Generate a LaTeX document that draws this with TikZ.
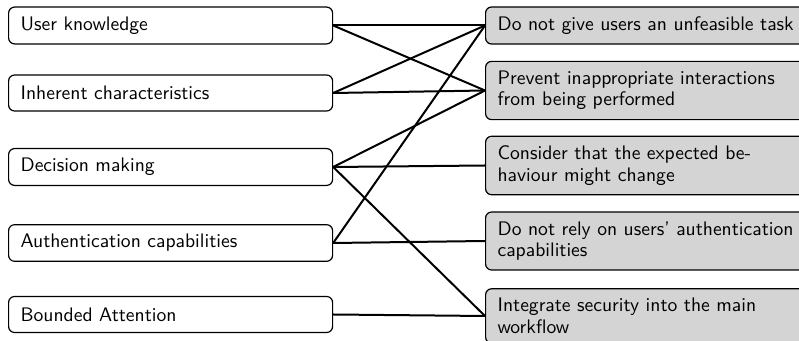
\documentclass[tikz,border=0pt]{standalone}
\begin{document}
\begin{tikzpicture}[x=0.5pt,y=-0.5pt,
  leftbox/.style={draw=black,line width=0.6pt,rounded corners=3pt,anchor=west,
    text width=150pt,align=left,inner xsep=6pt,inner ysep=4.8pt,minimum height=18pt,
    font=\fontsize{9.8}{10.7}\selectfont\sffamily},
  rightbox/.style={leftbox,fill=black!17},
  conn/.style={line width=1pt}]
\useasboundingbox (0,0) rectangle (799,341);
\begin{scope}
\clip (0,0) rectangle (799,341);
\node[leftbox] (uk) at (8,25.5) {User knowledge};
\node[leftbox] (ic) at (8,93) {Inherent characteristics};
\node[leftbox] (dm) at (8,167) {Decision making};
\node[leftbox] (ac) at (8,243) {Authentication capabilities};
\node[leftbox] (ba) at (8,314.5) {Bounded Attention};
\node[rightbox] (d1) at (485,25.5) {Do not give users an unfeasible task};
\node[rightbox] (p2) at (485,90.5) {Prevent inappropriate interactions from being performed};
\node[rightbox] (c3) at (485,165.5) {Consider that the expected behaviour might change};
\node[rightbox] (r4) at (485,241) {Do not rely on users' authentication capabilities};
\node[rightbox] (i5) at (485,316) {Integrate security into the main workflow};
\draw[conn] (uk.east) -- (d1.west);
\draw[conn] (uk.east) -- (p2.west);
\draw[conn] (ic.east) -- (d1.west);
\draw[conn] (ic.east) -- (p2.west);
\draw[conn] (dm.east) -- (p2.west);
\draw[conn] (dm.east) -- (c3.west);
\draw[conn] (dm.east) -- (i5.west);
\draw[conn] (ac.east) -- (d1.west);
\draw[conn] (ac.east) -- (r4.west);
\draw[conn] (ba.east) -- (i5.west);
\end{scope}
\end{tikzpicture}
\end{document}
